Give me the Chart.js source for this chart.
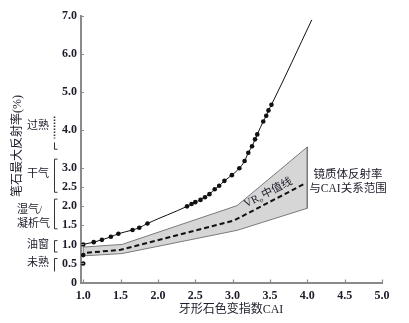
<!DOCTYPE html>
<html>
<head>
<meta charset="utf-8">
<script src="https://cdn.jsdelivr.net/npm/chart.js@4/dist/chart.umd.min.js"></script>
<style>
  body { margin: 0; background: #fff; }
  #wrap { width: 409px; height: 323px; }
</style>
</head>
<body>
<div id="wrap"><canvas id="myChart" width="409" height="323"></canvas></div>
<script>
// graptolite reflectance vs CAI
var curveX = [1.0, 1.14, 1.25, 1.37, 1.47, 1.66, 1.75, 1.86, 2.39, 2.45, 2.50, 2.57, 2.63, 2.69, 2.76, 2.82, 2.89, 2.99, 3.09, 3.16, 3.21, 3.26, 3.30, 3.33, 3.41, 3.45, 3.48, 3.52];
var curveY = [1.00, 1.06, 1.12, 1.20, 1.28, 1.38, 1.44, 1.55, 2.00, 2.06, 2.11, 2.17, 2.24, 2.32, 2.45, 2.54, 2.67, 2.82, 3.00, 3.19, 3.41, 3.58, 3.76, 3.89, 4.23, 4.38, 4.52, 4.67];
var curveEnd = [4.06, 6.90];          // line keeps going past the last dot
var extraX = [1.0, 1.0];
var extraY = [0.72, 0.50];

// vitrinite reflectance band and the VRo median line
var bandX = [1.0, 1.52, 3.06, 4.0];
var bandUpper = [0.93, 1.00, 2.02, 3.56];
var bandLower = [0.70, 0.76, 1.37, 1.95];
var medianX = [1.05, 1.50, 3.02, 3.95];
var medianY = [0.78, 0.86, 1.63, 2.58];

var xTicks = [1.0, 1.5, 2.0, 2.5, 3.0, 3.5, 4.0, 4.5, 5.0];
var yTicks = [0, 0.5, 1.0, 1.5, 2.0, 2.5, 3.0, 4.0, 5.0, 6.0, 7.0];

// maturity zones on the left: [label lines, from, to, dotted top part]
var zones = [
  { text: ["过熟"], y: 4.12, from: 3.50, to: 4.36, dotTo: 3.78, noTop: true },
  { text: ["干气"], y: 2.84, from: 2.37, to: 3.24 },
  { text: ["湿气/", "凝析气"], y: 1.72, from: 1.41, to: 2.19, left: true },
  { text: ["油窗"], y: 0.97, from: 0.80, to: 1.10 },
  { text: ["未熟"], y: 0.50, from: 0.29, to: 0.63, noBottom: true }
];

function pts(xs, ys) {
  var out = [];
  for (var i = 0; i < xs.length; i++) out.push({ x: xs[i], y: ys[i] });
  return out;
}

var curvePts = pts(curveX, curveY);
curvePts.push({ x: curveEnd[0], y: curveEnd[1] });

// closed polygon: upper edge, then lower edge backwards
var bandPts = pts(bandX, bandUpper);
for (var i = bandX.length - 1; i >= 0; i--) bandPts.push({ x: bandX[i], y: bandLower[i] });
bandPts.push({ x: bandX[0], y: bandUpper[0] });

var axisColor = '#8a8a8a';
var textColor = '#1c1c2a';
var cjk = "'Liberation Serif', 'Noto Sans CJK SC', serif";

var extras = {
  id: 'extras',
  afterDraw: function(chart) {
    var ctx = chart.ctx;
    var xs = chart.scales.x, ys = chart.scales.y;
    var area = chart.chartArea;
    ctx.save();

    // inward tick marks
    ctx.strokeStyle = axisColor;
    ctx.lineWidth = 1.2;
    ctx.beginPath();
    yTicks.forEach(function(v) {
      if (v === 0) return;
      var py = Math.round(ys.getPixelForValue(v)) + 0.5;
      ctx.moveTo(area.left, py);
      ctx.lineTo(area.left + 3, py);
    });
    xTicks.forEach(function(v) {
      var px = Math.round(xs.getPixelForValue(v)) + 0.5;
      ctx.moveTo(px, area.bottom);
      ctx.lineTo(px, area.bottom - 3);
    });
    ctx.stroke();

    // zone brackets
    ctx.strokeStyle = '#333';
    ctx.lineWidth = 1;
    var bx = 54.5;
    zones.forEach(function(z) {
      var top = ys.getPixelForValue(z.to);
      var bot = ys.getPixelForValue(z.from);
      ctx.beginPath();
      if (z.dotTo) {
        var mid = ys.getPixelForValue(z.dotTo);
        ctx.save();
        ctx.setLineDash([1.5, 1.5]);
        ctx.lineWidth = 1.6;
        ctx.moveTo(bx, top);
        ctx.lineTo(bx, mid);
        ctx.stroke();
        ctx.restore();
        ctx.beginPath();
        top = ys.getPixelForValue(3.68);
      }
      if (!z.noTop && !z.dotTo) {
        ctx.moveTo(bx + 3, top);
        ctx.lineTo(bx, top);
      } else {
        ctx.moveTo(bx, top);
      }
      ctx.lineTo(bx, bot);
      if (!z.noBottom) ctx.lineTo(bx + 3, bot);
      ctx.stroke();

      ctx.fillStyle = textColor;
      ctx.font = '11px ' + cjk;
      ctx.textBaseline = 'middle';
      var cy = ys.getPixelForValue(z.y);
      var n = z.text.length;
      for (var k = 0; k < n; k++) {
        var ly = cy + (k - (n - 1) / 2) * 14;
        if (z.left) {
          ctx.textAlign = 'left';
          ctx.fillText(z.text[k], 17, ly);
        } else {
          ctx.textAlign = 'right';
          ctx.fillText(z.text[k], 49, ly);
        }
      }
    });

    // axis titles
    ctx.fillStyle = textColor;
    ctx.font = '12px ' + cjk;
    ctx.textAlign = 'center';
    ctx.textBaseline = 'middle';
    ctx.fillText('牙形石色变指数CAI', 231, 310);
    ctx.save();
    ctx.translate(18, 146);
    ctx.rotate(-Math.PI / 2);
    ctx.fillText('笔石最大反射率(%)', 0, 0);
    ctx.restore();

    // band annotation on the right
    ctx.font = '11.5px ' + cjk;
    ctx.fillText('镜质体反射率', 348, 175);
    ctx.fillText('与CAI关系范围', 348, 189);

    // VRo label along the median line
    ctx.save();
    ctx.translate(xs.getPixelForValue(3.18), ys.getPixelForValue(1.97));
    ctx.rotate(-27 * Math.PI / 180);
    ctx.textAlign = 'left';
    ctx.textBaseline = 'alphabetic';
    ctx.font = '11px ' + cjk;
    ctx.fillText('VR', 0, 0);
    var w = ctx.measureText('VR').width;
    ctx.font = '7px ' + cjk;
    ctx.fillText('o', w, 2.5);
    w += ctx.measureText('o').width + 1;
    ctx.font = '11px ' + cjk;
    ctx.fillText('中值线', w, 0);
    ctx.restore();

    ctx.restore();
  }
};

var ctx = document.getElementById('myChart').getContext('2d');
var chart = new Chart(ctx, {
  type: 'scatter',
  data: {
    datasets: [
      {
        // loose dots at CAI 1.0
        data: pts(extraX, extraY),
        pointRadius: 2.3,
        pointBackgroundColor: '#111',
        pointBorderWidth: 0,
        showLine: false
      },
      {
        data: curvePts,
        showLine: true,
        borderColor: '#111',
        borderWidth: 1,
        cubicInterpolationMode: 'monotone',
        pointRadius: function(c) { return c.dataIndex === curvePts.length - 1 ? 0 : 2.3; },
        pointBackgroundColor: '#111',
        pointBorderWidth: 0
      },
      {
        data: pts(medianX, medianY),
        showLine: true,
        borderColor: '#111',
        borderWidth: 2,
        borderDash: [5, 3],
        pointRadius: 0
      },
      {
        data: bandPts,
        showLine: true,
        fill: 'shape',
        backgroundColor: '#d6d6d6',
        borderColor: '#7a7a7a',
        borderWidth: 1,
        pointRadius: 0
      }
    ]
  },
  options: {
    responsive: false,
    animation: false,
    layout: { padding: { top: 16, right: 27, left: 0, bottom: 0 } },
    plugins: { legend: { display: false }, tooltip: { enabled: false } },
    scales: {
      x: {
        type: 'linear',
        min: 0.97,
        max: 5.0,
        afterBuildTicks: function(s) { s.ticks = xTicks.map(function(v) { return { value: v }; }); },
        afterFit: function(s) { s.height = 40.5; },
        grid: { display: false, drawTicks: false },
        border: { display: true, color: axisColor, width: 2 },
        ticks: {
          padding: 6,
          color: textColor,
          font: { family: 'Liberation Serif', size: 12, weight: 'bold' },
          callback: function(v) { return v.toFixed(1); }
        }
      },
      y: {
        type: 'linear',
        min: 0,
        max: 7.0,
        afterBuildTicks: function(s) { s.ticks = yTicks.map(function(v) { return { value: v }; }); },
        afterFit: function(s) { s.width = 81; },
        grid: { display: false, drawTicks: false },
        border: { display: true, color: axisColor, width: 2 },
        ticks: {
          padding: 4,
          color: textColor,
          font: { family: 'Liberation Serif', size: 12, weight: 'bold' },
          callback: function(v) { return v === 0 ? '0' : v.toFixed(1); }
        }
      }
    }
  },
  plugins: [extras]
});
</script>
</body>
</html>
